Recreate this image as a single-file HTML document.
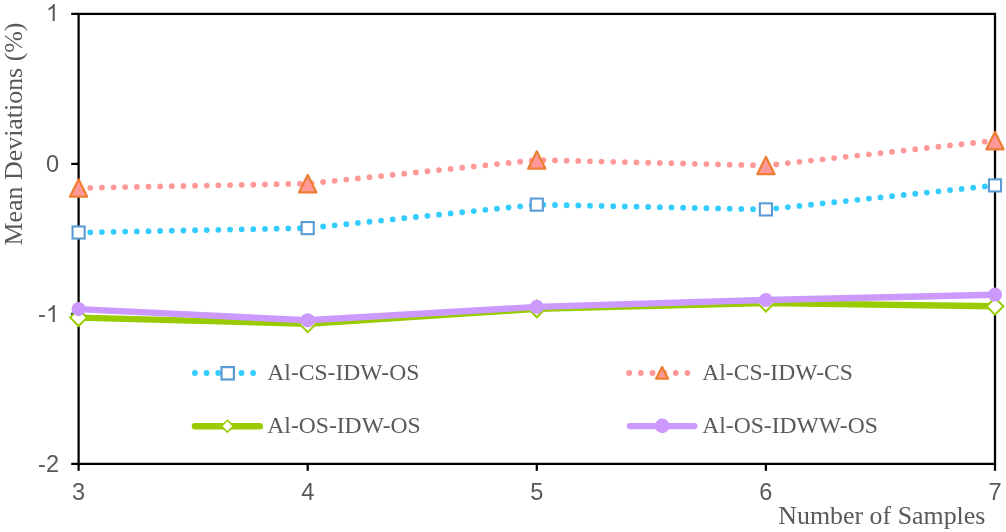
<!DOCTYPE html>
<html><head><meta charset="utf-8"><style>
html,body{margin:0;padding:0;background:#fff;}
body{width:1006px;height:532px;overflow:hidden;}
svg{display:block;}
text{}
</style></head><body>
<svg width="1006" height="532" viewBox="0 0 1006 532" style="will-change:transform">
<rect x="78.6" y="13.9" width="916.4" height="450.0" fill="none" stroke="#000" stroke-width="2.25"/>
<line x1="71.2" y1="13.9" x2="78.6" y2="13.9" stroke="#000" stroke-width="2.25"/>
<line x1="71.2" y1="163.9" x2="78.6" y2="163.9" stroke="#000" stroke-width="2.25"/>
<line x1="71.2" y1="313.9" x2="78.6" y2="313.9" stroke="#000" stroke-width="2.25"/>
<line x1="71.2" y1="463.9" x2="78.6" y2="463.9" stroke="#000" stroke-width="2.25"/>
<line x1="78.6" y1="463.9" x2="78.6" y2="470.8" stroke="#000" stroke-width="2.25"/>
<line x1="307.7" y1="463.9" x2="307.7" y2="470.8" stroke="#000" stroke-width="2.25"/>
<line x1="536.8" y1="463.9" x2="536.8" y2="470.8" stroke="#000" stroke-width="2.25"/>
<line x1="765.9" y1="463.9" x2="765.9" y2="470.8" stroke="#000" stroke-width="2.25"/>
<line x1="995.0" y1="463.9" x2="995.0" y2="470.8" stroke="#000" stroke-width="2.25"/>
<polyline points="78.60,232.50 307.70,228.10 536.80,204.60 765.90,209.40 995.00,185.40" fill="none" stroke="#33CCFF" stroke-width="5.8" stroke-linecap="round" stroke-dasharray="0 11.65"/>
<rect x="72.55" y="226.45" width="12.1" height="12.1" fill="#fff" stroke="#5B9BD5" stroke-width="2.1"/>
<rect x="301.65" y="222.05" width="12.1" height="12.1" fill="#fff" stroke="#5B9BD5" stroke-width="2.1"/>
<rect x="530.75" y="198.55" width="12.1" height="12.1" fill="#fff" stroke="#5B9BD5" stroke-width="2.1"/>
<rect x="759.85" y="203.35" width="12.1" height="12.1" fill="#fff" stroke="#5B9BD5" stroke-width="2.1"/>
<rect x="988.95" y="179.35" width="12.1" height="12.1" fill="#fff" stroke="#5B9BD5" stroke-width="2.1"/>
<polyline points="78.60,188.00 307.70,183.60 536.80,160.00 765.90,165.50 995.00,140.60" fill="none" stroke="#FF9999" stroke-width="5.8" stroke-linecap="round" stroke-dasharray="0 11.65"/>
<path d="M78.60,179.30 L87.25,196.70 L69.95,196.70 Z" fill="#FF9999" stroke="#ED7D31" stroke-width="2.2" stroke-linejoin="round"/>
<path d="M307.70,174.90 L316.35,192.30 L299.05,192.30 Z" fill="#FF9999" stroke="#ED7D31" stroke-width="2.2" stroke-linejoin="round"/>
<path d="M536.80,151.30 L545.45,168.70 L528.15,168.70 Z" fill="#FF9999" stroke="#ED7D31" stroke-width="2.2" stroke-linejoin="round"/>
<path d="M765.90,156.80 L774.55,174.20 L757.25,174.20 Z" fill="#FF9999" stroke="#ED7D31" stroke-width="2.2" stroke-linejoin="round"/>
<path d="M995.00,131.90 L1003.65,149.30 L986.35,149.30 Z" fill="#FF9999" stroke="#ED7D31" stroke-width="2.2" stroke-linejoin="round"/>
<polyline points="78.60,317.60 307.70,323.80 536.80,308.90 765.90,303.10 995.00,306.30" fill="none" stroke="#99CC00" stroke-width="6.4" stroke-linejoin="round"/>
<path d="M78.60,309.20 L87.00,317.60 L78.60,326.00 L70.20,317.60 Z" fill="#fff" stroke="#99CC00" stroke-width="2.0" stroke-linejoin="miter"/>
<path d="M307.70,315.40 L316.10,323.80 L307.70,332.20 L299.30,323.80 Z" fill="#fff" stroke="#99CC00" stroke-width="2.0" stroke-linejoin="miter"/>
<path d="M536.80,300.50 L545.20,308.90 L536.80,317.30 L528.40,308.90 Z" fill="#fff" stroke="#99CC00" stroke-width="2.0" stroke-linejoin="miter"/>
<path d="M765.90,294.70 L774.30,303.10 L765.90,311.50 L757.50,303.10 Z" fill="#fff" stroke="#99CC00" stroke-width="2.0" stroke-linejoin="miter"/>
<path d="M995.00,297.90 L1003.40,306.30 L995.00,314.70 L986.60,306.30 Z" fill="#fff" stroke="#99CC00" stroke-width="2.0" stroke-linejoin="miter"/>
<polyline points="78.60,309.10 307.70,320.30 536.80,306.90 765.90,300.00 995.00,294.70" fill="none" stroke="#CC99FF" stroke-width="6.4" stroke-linejoin="round"/>
<circle cx="78.60" cy="309.10" r="7.1" fill="#CC99FF"/>
<circle cx="307.70" cy="320.30" r="7.1" fill="#CC99FF"/>
<circle cx="536.80" cy="306.90" r="7.1" fill="#CC99FF"/>
<circle cx="765.90" cy="300.00" r="7.1" fill="#CC99FF"/>
<circle cx="995.00" cy="294.70" r="7.1" fill="#CC99FF"/>
<line x1="194.9" y1="373.0" x2="259.9" y2="373.0" stroke="#33CCFF" stroke-width="5.8" stroke-linecap="round" stroke-dasharray="0 11.65"/>
<rect x="221.50" y="367.10" width="12.4" height="12.4" fill="#fff" stroke="#5B9BD5" stroke-width="2.2"/>
<line x1="629.2" y1="373.0" x2="694.2" y2="373.0" stroke="#FF9999" stroke-width="5.8" stroke-linecap="round" stroke-dasharray="0 11.65"/>
<path d="M662.10,367.10 L668.05,378.70 L656.15,378.70 Z" fill="#FF9999" stroke="#ED7D31" stroke-width="2.3" stroke-linejoin="round"/>
<line x1="194.9" y1="426.2" x2="259.9" y2="426.2" stroke="#99CC00" stroke-width="6.4" stroke-linecap="round"/>
<path d="M227.40,420.30 L233.30,426.20 L227.40,432.10 L221.50,426.20 Z" fill="#fff" stroke="#99CC00" stroke-width="1.6" stroke-linejoin="miter"/>
<line x1="629.9" y1="426.05" x2="694.5" y2="426.05" stroke="#CC99FF" stroke-width="6.2" stroke-linecap="round"/>
<circle cx="662.20" cy="425.90" r="7.3" fill="#CC99FF"/>
<text x="267.3" y="379.6" style="font-family:'Liberation Serif',serif;font-size:23.6px;fill:#595959" text-anchor="start" >Al-CS-IDW-OS</text>
<text x="267.3" y="433.2" style="font-family:'Liberation Serif',serif;font-size:23.6px;fill:#595959" text-anchor="start" >Al-OS-IDW-OS</text>
<text x="702.2" y="379.6" style="font-family:'Liberation Serif',serif;font-size:23.6px;fill:#595959" text-anchor="start" >Al-CS-IDW-CS</text>
<text x="702.2" y="433.2" style="font-family:'Liberation Serif',serif;font-size:23.6px;fill:#595959" text-anchor="start" >Al-OS-IDWW-OS</text>
<path d="M763,0 L583,0 L583,1147 Q518,1085 412,1023 Q306,961 223,930 L223,1104 Q374,1175 487,1276 Q600,1377 647,1472 L763,1472 Z" fill="#595959" transform="translate(45.97,21.00) scale(0.011523,-0.011523)"/>
<text x="59.1" y="172.4" style="font-family:'Liberation Sans',sans-serif;font-size:23.6px;fill:#595959" text-anchor="end" >0</text>
<text x="45.9748046875" y="322.2" style="font-family:'Liberation Sans',sans-serif;font-size:23.6px;fill:#595959" text-anchor="end" >-</text>
<path d="M763,0 L583,0 L583,1147 Q518,1085 412,1023 Q306,961 223,930 L223,1104 Q374,1175 487,1276 Q600,1377 647,1472 L763,1472 Z" fill="#595959" transform="translate(45.97,322.00) scale(0.011523,-0.011523)"/>
<text x="59.1" y="472.4" style="font-family:'Liberation Sans',sans-serif;font-size:23.6px;fill:#595959" text-anchor="end" >-2</text>
<text x="78.6" y="500" style="font-family:'Liberation Sans',sans-serif;font-size:23.6px;fill:#595959" text-anchor="middle" >3</text>
<text x="307.7" y="500" style="font-family:'Liberation Sans',sans-serif;font-size:23.6px;fill:#595959" text-anchor="middle" >4</text>
<text x="536.8" y="500" style="font-family:'Liberation Sans',sans-serif;font-size:23.6px;fill:#595959" text-anchor="middle" >5</text>
<text x="765.9" y="500" style="font-family:'Liberation Sans',sans-serif;font-size:23.6px;fill:#595959" text-anchor="middle" >6</text>
<text x="995.0" y="500" style="font-family:'Liberation Sans',sans-serif;font-size:23.6px;fill:#595959" text-anchor="middle" >7</text>
<text x="985.4" y="523.7" style="font-family:'Liberation Serif',serif;font-size:25.9px;fill:#595959" text-anchor="end" >Number of Samples</text>
<text transform="translate(22.1,245.4) rotate(-90)" style="font-family:'Liberation Serif',serif;font-size:25.9px;fill:#595959">Mean Deviations (%)</text>
</svg>
</body></html>
